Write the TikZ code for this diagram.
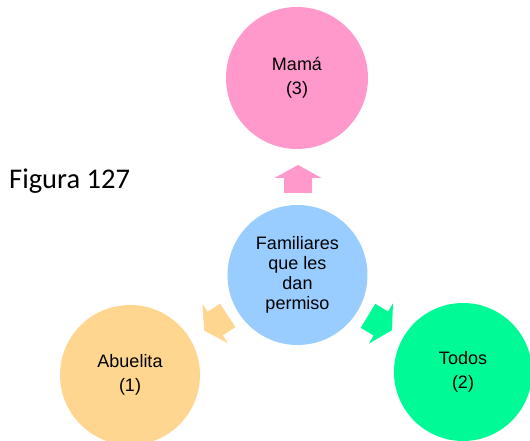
\documentclass[tikz,border=0pt]{standalone}
\usepackage{fontspec}
\setmainfont{Liberation Sans}
\newfontfamily\figfont{Carlito}
\definecolor{cpink}{HTML}{FF99CC}
\definecolor{cblue}{HTML}{99CCFF}
\definecolor{corange}{HTML}{FFD68F}
\definecolor{cgreen}{HTML}{00FA96}
\tikzset{
  bubble/.style={circle, minimum size=140pt, inner sep=0pt, align=center,
    font=\fontsize{18}{24}\selectfont},
  blockarrow/.pic={
    \path[pic actions] (-14,-14) -- (1,-14) -- (1,-23.5) -- (14,0) -- (1,23.5) -- (1,14) -- (-14,14) -- cycle;
  }
}
\begin{document}
\begin{tikzpicture}[x=1pt,y=1pt]
\useasboundingbox (0,0) rectangle (530,441);
\node[bubble, fill=cpink, minimum size=142pt] (mama) at (297,363) {Mamá\\(3)};
\node[bubble, fill=cblue, font=\fontsize{18}{20}\selectfont] (center) at (297.5,166) {Familiares\\que les\\dan\\permiso};
\node[bubble, fill=corange] (abuelita) at (130,66) {Abuelita\\(1)};
\node[bubble, fill=cgreen, minimum size=138pt] (todos) at (463,69) {Todos\\(2)};
\pic[fill=cpink, rotate=90] at (298,262) {blockarrow};
\pic[fill=corange, rotate=213] at (216,118) {blockarrow};
\pic[fill=cgreen, rotate=-31] at (380,118) {blockarrow};
\node[anchor=base west, inner sep=0pt, font=\figfont\fontsize{28.5}{30}\selectfont] (fig) at (9,252) {Figura 127};
\end{tikzpicture}
\end{document}
